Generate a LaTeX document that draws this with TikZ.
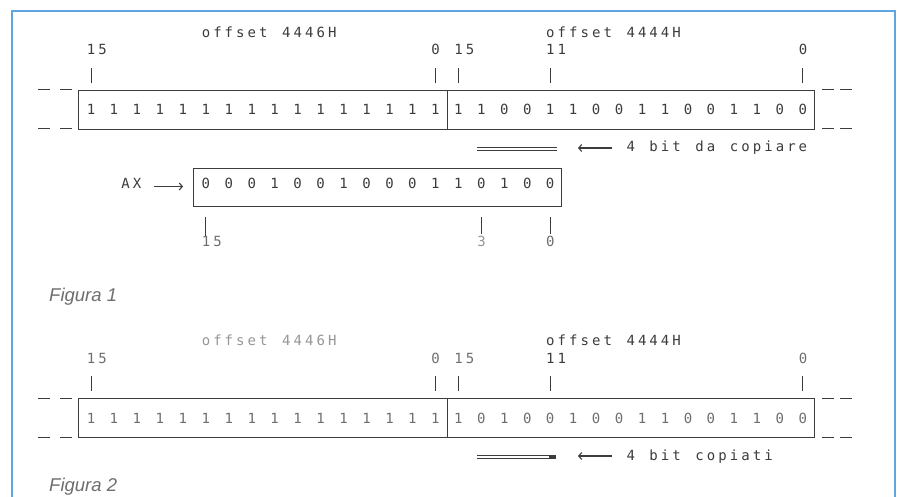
\documentclass[tikz,border=0pt]{standalone}
\usepackage{fontspec}
\setmainfont{Liberation Sans}
\newfontfamily\mfont{DejaVu Sans Mono}
\usetikzlibrary{arrows.meta}
\definecolor{frameblue}{RGB}{95,165,225}
\definecolor{ink}{RGB}{60,60,60}
\definecolor{inklt}{RGB}{110,110,110}
\definecolor{inkfd}{RGB}{150,150,150}
\newlength\cw \setlength\cw{11.48pt}
\newcommand\mcell[1]{\makebox[\cw][c]{#1}}
\def\monoloop#1{\ifx#1\relax\else\mcell{#1}\expandafter\monoloop\fi}
\newcommand\mono[1]{\monoloop#1\relax}
\begin{document}
\begin{tikzpicture}[x=1pt,y=-1pt,
  font=\mfont\fontsize{14}{14}\selectfont,
  declare function={cx(\c)=91+11.48*\c;},
  mtxt/.style={inner sep=0pt,anchor=base west,text=ink},
  bit/.style={inner sep=0pt,anchor=base,text=ink},
  figlbl/.style={inner sep=0pt,anchor=base west,text=inklt,font=\fontsize{18.5}{18.5}\selectfont\itshape},
  regline/.style={draw=ink,line width=1pt},
  tickline/.style={draw=ink,line width=1pt},
  dblline/.style={draw=ink,line width=0.8pt},
  conn/.style={draw=ink,line width=1.1pt},
  regbox/.style={draw=ink,line width=1pt,inner sep=0pt,anchor=north west}]
\useasboundingbox (0,0) rectangle (902,497);
\fill[white] (0,0) rectangle (902,497);
\clip (0,0) rectangle (902,497);
% frame
\draw[frameblue,line width=2.5pt] (12,520) -- (12,11) -- (895,11) -- (895,520);

% ================= Figura 1 =================
\node[mtxt] (f1offL) at ({cx(10)-5.74},37.5) {\mono{offset~4446H}};
\node[mtxt] (f1offR) at ({cx(40)-5.74},37.5) {\mono{offset~4444H}};
\node[mtxt] (f1n15a) at ({cx(0)-5.74},55) {\mono{15}};
\node[mtxt] (f1n0a) at ({cx(30)-5.74},55) {\mono{0}};
\node[mtxt] (f1n15b) at ({cx(32)-5.74},55) {\mono{15}};
\node[mtxt] (f1n11) at ({cx(40)-5.74},55) {\mono{11}};
\node[mtxt] (f1n0b) at ({cx(62)-5.74},55) {\mono{0}};
\foreach \c in {0,30,32,40,62} \draw[tickline] ({cx(\c)},68) -- ({cx(\c)},83);
\node[regbox,minimum width=368.9pt,minimum height=39pt] (f1boxL) at (78,90) {};
\node[regbox,minimum width=367.1pt,minimum height=39pt] (f1boxR) at (446.9,90) {};
\draw[regline] (38,90) -- (50,90) (60,90) -- (72,90) (38,129) -- (50,129) (60,129) -- (72,129);
\draw[regline] (822,90) -- (834,90) (840,90) -- (852,90) (822,129) -- (834,129) (840,129) -- (852,129);
\foreach \b [count=\k from 0] in {1,1,1,1,1,1,1,1,1,1,1,1,1,1,1,1}
  \node[bit] (f1l\k) at ({cx(2*\k)},115) {\b};
\foreach \b [count=\k from 0] in {1,1,0,0,1,1,0,0,1,1,0,0,1,1,0,0}
  \node[bit] (f1r\k) at ({cx(32+2*\k)},115) {\b};
\draw[dblline] (477,147) -- (557,147) (477,150) -- (557,150);
\node[mtxt] (f1note) at ({cx(47)-5.74},152) {\mono{4~bit~da~copiare}};
\coordinate (f1tip) at (578,148);
\draw[conn,-{Straight Barb[length=3pt,width=7pt]},shorten <=12.8pt] (f1note.west |- f1tip) -- (f1tip);

% AX register
\node[mtxt] (axlbl) at ({cx(3)-5.74},189) {\mono{AX}};
\node[regbox,minimum width=368pt,minimum height=38pt] (axbox) at (193,168) {};
\coordinate (axy) at (0,186.5);
\draw[conn,-{Straight Barb[length=3pt,width=7pt]},shorten <=11.3pt,shorten >=10pt] (axlbl.east |- axy) -- (axbox.west |- axy);
\foreach \b [count=\k from 0] in {0,0,0,1,0,0,1,0,0,0,1,1,0,1,0,0}
  \node[bit] (ax\k) at ({cx(10+2*\k)},189) {\b};
\draw[tickline] ({cx(10)},217) -- ({cx(10)},236);
\draw[tickline] ({cx(34)},217) -- ({cx(34)},234);
\draw[tickline] ({cx(40)},217) -- ({cx(40)},234);
\node[mtxt,text=inklt] (axn15) at ({cx(10)-5.74},247) {\mono{15}};
\node[mtxt,text=inkfd] (axn3) at ({cx(34)-5.74},246) {\mono{3}};
\node[mtxt,text=inklt] (axn0) at ({cx(40)-5.74},246) {\mono{0}};

\node[figlbl] (fig1) at (49,301) {Figura 1};

% ================= Figura 2 =================
\node[mtxt,text=inkfd] (f2offL) at ({cx(10)-5.74},345.5) {\mono{offset~4446H}};
\node[mtxt] (f2offR) at ({cx(40)-5.74},345.5) {\mono{offset~4444H}};
\node[mtxt,text=inklt] (f2n15a) at ({cx(0)-5.74},363) {\mono{15}};
\node[mtxt,text=inklt] (f2n0a) at ({cx(30)-5.74},363) {\mono{0}};
\node[mtxt,text=inklt] (f2n15b) at ({cx(32)-5.74},363) {\mono{15}};
\node[mtxt] (f2n11) at ({cx(40)-5.74},363) {\mono{11}};
\node[mtxt,text=inklt] (f2n0b) at ({cx(62)-5.74},363) {\mono{0}};
\foreach \c in {0,30,32,40,62} \draw[tickline] ({cx(\c)},376) -- ({cx(\c)},391);
\node[regbox,minimum width=368.9pt,minimum height=39pt] (f2boxL) at (78,398) {};
\node[regbox,minimum width=367.1pt,minimum height=39pt] (f2boxR) at (446.9,398) {};
\draw[regline] (38,398) -- (50,398) (60,398) -- (72,398) (38,437) -- (50,437) (60,437) -- (72,437);
\draw[regline] (822,398) -- (834,398) (840,398) -- (852,398) (822,437) -- (834,437) (840,437) -- (852,437);
\foreach \b [count=\k from 0] in {1,1,1,1,1,1,1,1,1,1,1,1,1,1,1,1}
  \node[bit,text=inklt] (f2l\k) at ({cx(2*\k)},423) {\b};
\foreach \b [count=\k from 0] in {1,0,1,0,0,1,0,0,1,1,0,0,1,1,0,0}
  \node[bit,text=inklt] (f2r\k) at ({cx(32+2*\k)},423) {\b};
\draw[dblline] (477,455) -- (555,455) (477,458) -- (555,458);
\fill[ink] (549,454.5) rectangle (556,458.5);
\node[mtxt] (f2note) at ({cx(47)-5.74},460) {\mono{4~bit~copiati}};
\coordinate (f2tip) at (578,456);
\draw[conn,-{Straight Barb[length=3pt,width=7pt]},shorten <=12.8pt] (f2note.west |- f2tip) -- (f2tip);

\node[figlbl] (fig2) at (49,491) {Figura 2};
\end{tikzpicture}
\end{document}
